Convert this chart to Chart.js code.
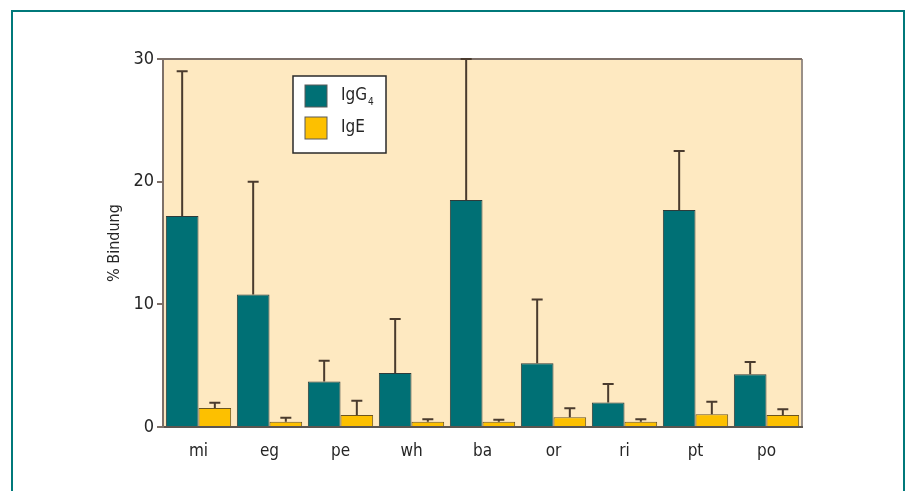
<!DOCTYPE html>
<html>
<head>
<meta charset="utf-8">
<script src="https://cdn.jsdelivr.net/npm/chart.js@4.4.0/dist/chart.umd.min.js"></script>
<style>
	html, body { margin: 0; padding: 0; background: #ffffff; }
	#wrap { position: relative; width: 908px; height: 491px; overflow: hidden; }
	#frame {
		position: absolute; left: 11px; top: 10px; width: 890px; height: 600px;
		border: 2px solid #00797a; border-bottom: none;
	}
	canvas { position: absolute; left: 0; top: 0; }
</style>
</head>
<body>
<div id="wrap">
	<div id="frame"></div>
	<canvas id="chart" width="908" height="491"></canvas>
</div>
<script>
const categories = ['mi', 'eg', 'pe', 'wh', 'ba', 'or', 'ri', 'pt', 'po'];
const yTicks = [0, 10, 20, 30];

// mean % binding and standard deviation (upper error bar only)
const igg4 = [17.2, 10.8, 3.7, 4.4, 18.5, 5.2, 2.0, 17.7, 4.3];
const igg4Sd = [11.8, 9.2, 1.7, 4.4, 11.5, 5.2, 1.5, 4.8, 1.0];
const ige = [1.55, 0.43, 0.98, 0.43, 0.43, 0.8, 0.43, 1.03, 0.98];
const igeSd = [0.43, 0.33, 1.16, 0.2, 0.17, 0.72, 0.2, 1.03, 0.46];

const FONT = "'Liberation Sans Narrow', 'DejaVu Sans Condensed', 'Arial Narrow', sans-serif";
const TEXT = '#262626';

const plotBackground = {
	id: 'plotBackground',
	beforeDraw(chart) {
		const {ctx, chartArea: a} = chart;
		ctx.save();
		ctx.fillStyle = '#fee9c1';
		ctx.fillRect(a.left, a.top, a.right - a.left, a.bottom - a.top);
		// right edge shadow and top line
		ctx.strokeStyle = '#9a9088';
		ctx.lineWidth = 2;
		ctx.beginPath();
		ctx.moveTo(a.right, a.top);
		ctx.lineTo(a.right, a.bottom);
		ctx.stroke();
		ctx.strokeStyle = '#7d7068';
		ctx.beginPath();
		ctx.moveTo(a.left, a.top);
		ctx.lineTo(a.right, a.top);
		ctx.stroke();
		ctx.restore();
	}
};

const errorBars = {
	id: 'errorBars',
	afterDatasetsDraw(chart) {
		const {ctx} = chart;
		const y = chart.scales.y;
		ctx.save();
		ctx.strokeStyle = '#4a3b2e';
		ctx.lineWidth = 2;
		chart.data.datasets.forEach((ds, i) => {
			const meta = chart.getDatasetMeta(i);
			meta.data.forEach((bar, j) => {
				const top = y.getPixelForValue(ds.data[j] + ds.sd[j]);
				ctx.beginPath();
				ctx.moveTo(bar.x, bar.y);
				ctx.lineTo(bar.x, top);
				ctx.moveTo(bar.x - 5.5, top);
				ctx.lineTo(bar.x + 5.5, top);
				ctx.stroke();
			});
		});
		ctx.restore();
	}
};

const boxLegend = {
	id: 'boxLegend',
	afterDraw(chart) {
		const {ctx} = chart;
		const x = 293, yTop = 76, w = 93, h = 77;
		ctx.save();
		ctx.fillStyle = '#ffffff';
		ctx.fillRect(x, yTop, w, h);
		ctx.strokeStyle = '#2a2a2a';
		ctx.lineWidth = 1.5;
		ctx.strokeRect(x, yTop, w, h);
		const rows = [{label: 'IgG', sub: '4'}, {label: 'IgE', sub: ''}];
		chart.data.datasets.forEach((ds, i) => {
			const sy = 85 + i * 32;
			ctx.fillStyle = ds.backgroundColor;
			ctx.fillRect(305, sy, 22, 22);
			ctx.strokeStyle = '#5a5a5a';
			ctx.lineWidth = 1;
			ctx.strokeRect(305, sy, 22, 22);
			ctx.fillStyle = TEXT;
			ctx.font = '17px ' + FONT;
			ctx.textBaseline = 'middle';
			ctx.textAlign = 'left';
			ctx.fillText(rows[i].label, 341, sy + 11);
			if (rows[i].sub) {
				const tw = ctx.measureText(rows[i].label).width;
				ctx.font = '10px ' + FONT;
				ctx.fillText(rows[i].sub, 341 + tw + 1, sy + 17);
			}
		});
		ctx.restore();
	}
};

new Chart(document.getElementById('chart'), {
	type: 'bar',
	data: {
		labels: categories,
		datasets: [
			{
				label: 'IgG4',
				data: igg4,
				sd: igg4Sd,
				backgroundColor: '#007075',
				borderColor: '#2e3b3a',
				borderWidth: 1,
				barPercentage: 1.0,
				categoryPercentage: 0.92,
			},
			{
				label: 'IgE',
				data: ige,
				sd: igeSd,
				backgroundColor: '#fdc000',
				borderColor: '#6b5520',
				borderWidth: 1,
				barPercentage: 1.0,
				categoryPercentage: 0.92,
			},
		]
	},
	options: {
		responsive: false,
		animation: false,
		layout: {
			padding: {left: 0, top: 59, right: 106, bottom: 0}
		},
		plugins: {
			legend: {display: false},
			tooltip: {enabled: false},
		},
		scales: {
			x: {
				afterFit: scale => { scale.height = 64; },
				grid: {display: false, drawTicks: false},
				border: {color: '#5b5550', width: 2},
				ticks: {
					color: TEXT,
					padding: 14,
					font: {family: FONT, size: 17},
				}
			},
			y: {
				min: 0,
				max: 30,
				afterFit: scale => { scale.width = 163; },
				afterBuildTicks: scale => { scale.ticks = yTicks.map(v => ({value: v})); },
				grid: {drawOnChartArea: false, drawTicks: true, tickLength: 6, tickColor: '#7d7068', lineWidth: 2},
				border: {color: '#7d7068', width: 2},
				ticks: {
					color: TEXT,
					padding: 3,
					font: {family: FONT, size: 18},
				},
				title: {
					display: true,
					text: '% Bindung',
					color: TEXT,
					padding: {top: 105, bottom: 0},
					font: {family: FONT, size: 16},
				}
			}
		}
	},
	plugins: [plotBackground, errorBars, boxLegend]
});
</script>
</body>
</html>
